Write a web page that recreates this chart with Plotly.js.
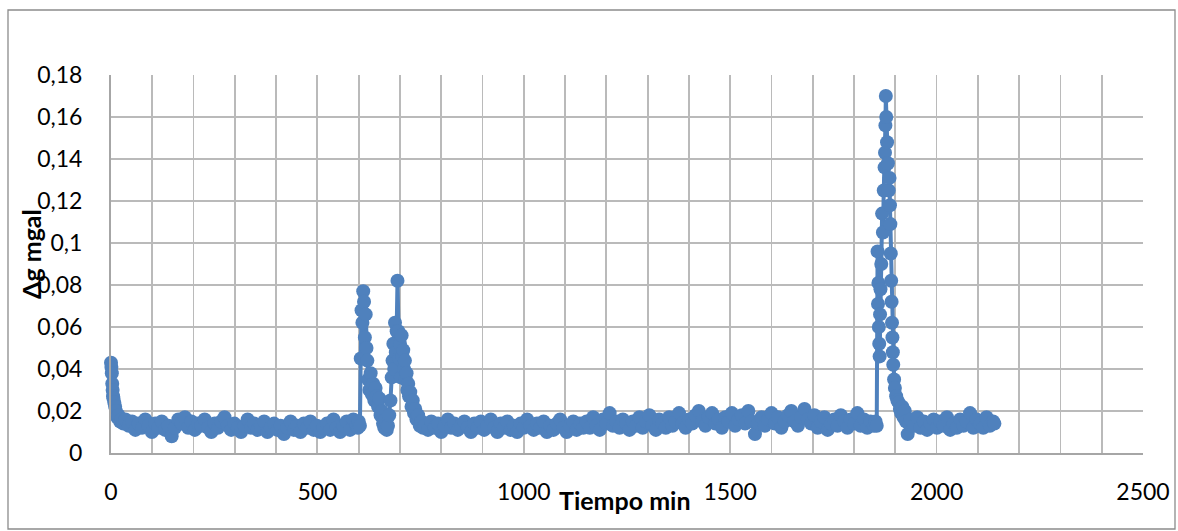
<!DOCTYPE html>
<html>
<head>
<meta charset="utf-8">
<script src="https://cdn.plot.ly/plotly-3.0.1.min.js"></script>
<style>html,body{margin:0;padding:0;background:#fff;}#chart{width:1178px;height:531px;}</style>
</head>
<body>
<div id="chart"></div>
<script>
// ---- Data (time in minutes, gravity difference in mgal) ----
const startTimes = [0, 1, 2, 3, 4, 5, 6, 8, 10, 12, 15, 18, 22, 26, 30];
const startValues = [0.043, 0.041, 0.038, 0.033, 0.030, 0.027, 0.026, 0.024, 0.022, 0.020, 0.017, 0.018, 0.015, 0.016, 0.014];

// regular 8-minute readings, 35..595
const base1Start = 35, base1Step = 8;
const base1Values = [
0.016,0.013,0.015,0.011,0.014,0.012,0.016,0.013,0.010,0.014,
0.012,0.015,0.011,0.013,0.008,0.012,0.016,0.014,0.017,0.012,
0.015,0.011,0.014,0.013,0.016,0.012,0.010,0.014,0.012,0.015,
0.017,0.013,0.011,0.014,0.012,0.010,0.013,0.016,0.012,0.014,
0.011,0.013,0.015,0.010,0.012,0.014,0.011,0.013,0.009,0.012,
0.015,0.011,0.013,0.010,0.014,0.012,0.015,0.011,0.013,0.010,
0.012,0.014,0.011,0.016,0.012,0.010,0.013,0.015,0.011,0.016,0.013];

const peak1Times = [598,600,603,605,607,609,611,613,615,617,619,621,623,626,629,632,635,638,641,644,647,650,653,656,659,662,665,668,671,674,677,680,682,684,686,688,690,692,694,696,698,700,702,704,706,708,710,712,714,716,718,720,722,725,728,731,734,737,740,744,748,752,756];
const peak1Values = [0.012,0.015,0.013,0.045,0.068,0.062,0.077,0.072,0.055,0.066,0.050,0.044,0.035,0.030,0.038,0.028,0.033,0.025,0.031,0.027,0.022,0.026,0.018,0.020,0.014,0.012,0.016,0.011,0.013,0.018,0.025,0.036,0.044,0.052,0.040,0.062,0.048,0.058,0.082,0.058,0.045,0.052,0.036,0.056,0.046,0.049,0.040,0.044,0.035,0.038,0.030,0.033,0.027,0.029,0.022,0.025,0.019,0.021,0.016,0.018,0.013,0.015,0.012];

// regular 8-minute readings, 760..1848
const base2Start = 760, base2Step = 8;
const base2Values = [
0.013,0.011,0.015,0.012,0.014,0.010,0.013,0.016,0.012,0.014,
0.011,0.013,0.015,0.012,0.010,0.014,0.012,0.015,0.011,0.013,
0.016,0.012,0.010,0.014,0.012,0.015,0.011,0.013,0.010,0.014,
0.012,0.016,0.013,0.011,0.014,0.012,0.015,0.010,0.013,0.011,
0.014,0.016,0.012,0.010,0.013,0.015,0.011,0.014,0.012,
0.015,0.012,0.017,0.013,0.011,0.016,0.014,0.019,0.013,0.015,
0.012,0.016,0.014,0.011,0.015,0.013,0.017,0.012,0.015,0.018,
0.013,0.011,0.016,0.014,0.012,0.017,0.013,0.015,0.019,0.014,
0.012,0.016,
0.014,0.018,0.020,0.015,0.013,0.017,0.019,0.014,0.016,0.012,
0.017,0.015,0.019,0.013,0.016,0.018,0.014,0.020,0.015,0.009,
0.014,0.017,0.013,0.016,0.019,0.014,0.017,0.012,0.015,0.018,
0.020,0.015,0.013,0.017,0.021,0.016,0.014,0.018,0.012,0.015,
0.017,0.011,0.014,0.016,0.013,0.018,0.015,0.012,0.016,0.014,
0.019,0.013,0.016,0.012,0.015,0.013];

const peak2Times = [1852,1855,1857,1858,1859,1860,1861,1862,1863,1864,1866,1868,1870,1872,1874,1875,1876,1877,1878,1880,1882,1884,1886,1887,1888,1889,1890,1891,1892,1893,1894,1895,1897,1899,1902,1905,1908,1911,1914,1917,1920,1923,1926,1930,1933];
const peak2Values = [0.015,0.013,0.096,0.071,0.081,0.060,0.052,0.046,0.066,0.078,0.090,0.114,0.105,0.125,0.136,0.143,0.156,0.170,0.160,0.148,0.138,0.125,0.131,0.118,0.109,0.095,0.082,0.072,0.062,0.055,0.048,0.042,0.035,0.031,0.027,0.025,0.024,0.021,0.019,0.022,0.017,0.020,0.015,0.009,0.014];

// regular 8-minute readings, 1937..2137
const base3Start = 1937, base3Step = 8;
const base3Values = [
0.016,0.013,0.017,0.012,0.015,0.011,0.014,0.016,0.012,0.015,
0.013,0.017,0.011,0.014,0.012,0.016,0.013,0.015,0.019,0.012,
0.016,0.014,0.012,0.017,0.013,0.015];
const endTimes = [2140];
const endValues = [0.014];

const xTickVals = [0, 500, 1000, 1500, 2000, 2500];
const yTickVals = [0, 0.02, 0.04, 0.06, 0.08, 0.1, 0.12, 0.14, 0.16, 0.18];
const yTickLabels = ['0','0,02','0,04','0,06','0,08','0,1','0,12','0,14','0,16','0,18'];

// ---- assemble ----
function regular(start, step, vals){ return vals.map((v,i)=>start+i*step); }
const t = [].concat(startTimes, regular(base1Start, base1Step, base1Values), peak1Times,
  regular(base2Start, base2Step, base2Values), peak2Times, regular(base3Start, base3Step, base3Values), endTimes);
const g = [].concat(startValues, base1Values, peak1Values, base2Values, peak2Values, base3Values, endValues);

const blue = '#4F81BD';
const grid = '#BABABA';
const font = 'Lato, "Open Sans", "Liberation Sans", sans-serif';

const trace = {
  x: t, y: g, type: 'scatter', mode: 'lines+markers',
  line: {color: blue, width: 4},
  marker: {color: blue, size: 14},
  cliponaxis: false,
  hoverinfo: 'x+y', showlegend: false
};

const W = 1032, H = 378; // plot area size in px
const layout = {
  width: 1178, height: 531,
  margin: {l: 111, r: 35, t: 75, b: 78},
  paper_bgcolor: '#fff', plot_bgcolor: '#fff',
  font: {family: font, size: 23, color: '#000'},
  showlegend: false,
  xaxis: {
    range: [0, 2500], tickvals: xTickVals, ticktext: xTickVals.map(String),
    showgrid: true, gridcolor: grid, gridwidth: 1.8,
    minor: {dtick: 100, showgrid: true, gridcolor: grid, gridwidth: 1.8},
    showline: true, linecolor: '#A6A6A6', linewidth: 2,
    zeroline: false, ticks: 'outside', ticklen: 17, tickcolor: 'rgba(0,0,0,0)',
    tickfont: {family: font, size: 23, color: '#000'}, fixedrange: true
  },
  yaxis: {
    range: [0, 0.18], tickvals: yTickVals, ticktext: yTickLabels,
    showgrid: true, gridcolor: grid, gridwidth: 1.8,
    showline: true, linecolor: '#A6A6A6', linewidth: 2,
    zeroline: false, ticks: 'outside', ticklen: 22, tickcolor: 'rgba(0,0,0,0)',
    tickfont: {family: font, size: 23, color: '#000'}, fixedrange: true
  },
  annotations: [
    {text: '<b>Δg mgal</b>', xref: 'paper', yref: 'paper', x: (31-111)/W, y: (453-254)/H,
     textangle: -90, showarrow: false, xanchor: 'center', yanchor: 'middle',
     font: {family: font, size: 25, color: '#000'}},
    {text: '<b>Tiempo min</b>', xref: 'paper', yref: 'paper', x: (625-111)/W, y: (453-500)/H,
     showarrow: false, xanchor: 'center', yanchor: 'middle',
     font: {family: font, size: 25, color: '#000'}}
  ],
  shapes: [
    {type: 'rect', xref: 'paper', yref: 'paper', x0: (8-111)/W, x1: (1175-111)/W,
     y0: (453-529)/H, y1: (453-10)/H, line: {color: '#8C8C8C', width: 1.3}, fillcolor: 'rgba(0,0,0,0)', layer: 'below'}
  ]
};

Plotly.newPlot('chart', [trace], layout, {displayModeBar: false, staticPlot: true});
</script>
</body>
</html>
